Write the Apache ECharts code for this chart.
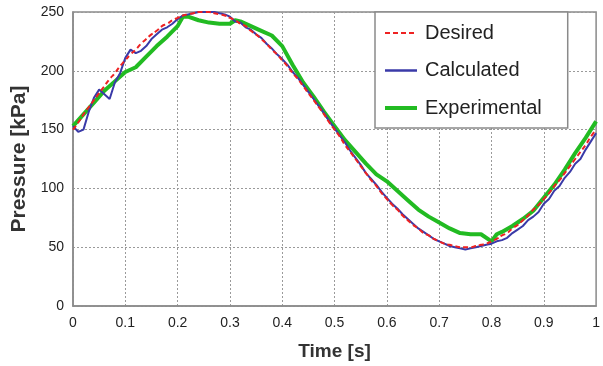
<!DOCTYPE html>
<html><head><meta charset="utf-8">
<script src="https://cdn.jsdelivr.net/npm/echarts@6/dist/echarts.min.js"></script>
<style>html,body{margin:0;padding:0;background:#fff}#c{width:603px;height:366px}</style>
</head><body><div id="c"></div>
<script>
// Desired pressure, sampled every 0.01 s
const desired = [150,156,163,169,175,181,187,193,198,204,209,214,218,223,227,231,234,238,240,243,245,247,248,249,250,250,
250,249,248,247,245,243,240,238,234,231,227,223,218,214,209,204,198,193,187,181,175,169,163,156,150,
144,137,131,125,119,113,107,102,96,91,86,82,77,73,69,66,62,60,57,55,53,52,51,50,50,
50,51,52,53,55,57,60,62,66,69,73,77,82,86,91,96,102,107,113,119,125,131,137,144,150];
// Calculated pressure, sampled every 0.01 s
const calculated = [153,148,150,165,177,184,180,176,190,198,211,218,215,217,221,227,231,235,237,240,244,247,248,249,250,250,
250,250,249,248,246,242,241,237,235,231,228,223,219,214,210,205,199,194,188,182,176,170,164,157,151,
145,139,132,126,120,113,108,103,97,92,87,83,78,74,70,66,63,60,57,55,53,51,50,49,48,
49,50,51,52,53,55,56,58,62,65,68,73,76,80,87,91,98,102,109,114,121,125,133,140,147];
// Experimental pressure
const expT = [0,0.02,0.04,0.06,0.08,0.10,0.12,0.14,0.16,0.18,0.20,0.21,0.22,0.24,0.26,0.28,0.30,0.31,0.32,0.34,0.36,0.38,0.40,0.42,0.44,0.46,0.48,0.50,0.52,0.54,0.56,0.58,0.60,0.62,0.64,0.66,0.68,0.70,0.72,0.74,0.76,0.78,0.80,0.81,0.82,0.84,0.86,0.88,0.90,0.92,0.94,0.96,0.98,1.00];
const experimental = [153,163,173,183,191,199,203,212,221,229,238,246,246,243,241,240,240,243,242,238,234,230,221,205,190,178,165,153,141,131,121,112,106,98,90,82,76,71,66,62,61,61,55,61,63,68,74,81,92,103,116,130,143,157];
const xTicks = [0,0.1,0.2,0.3,0.4,0.5,0.6,0.7,0.8,0.9,1];
const yTicks = [0,50,100,150,200,250];

const step = 0.01;
const pairs = arr => arr.map((v,i)=>[+(i*step).toFixed(2), v]);
const chart = echarts.init(document.getElementById('c'));
const FONT = '"Liberation Sans", Arial, sans-serif';
chart.setOption({
  animation:false,
  grid:{left:73,right:5,top:12,bottom:59,show:true,borderColor:'#8a8a8a',borderWidth:1.5,backgroundColor:'transparent'},
  legend:{
    orient:'vertical', left:375, top:12,
    backgroundColor:'#fff', borderColor:'#8a8a8a', borderWidth:1.5, borderRadius:0,
    padding:[11,26,10,8], itemGap:17.5, itemWidth:32, itemHeight:20,
    itemStyle:{opacity:0},
    textStyle:{fontFamily:FONT,fontSize:20,color:'#222',padding:[0,0,0,3]},
    data:[
      {name:'Desired',lineStyle:{width:2}},
      {name:'Calculated',lineStyle:{width:2.5}},
      {name:'Experimental',lineStyle:{width:4}}
    ]
  },
  xAxis:{type:'value',min:0,max:1,interval:0.1,
    name:'Time [s]',nameLocation:'middle',nameGap:36,
    nameTextStyle:{fontFamily:FONT,fontSize:19,fontWeight:'bold',color:'#333'},
    axisLine:{show:true,lineStyle:{color:'#8a8a8a',width:1.5}},
    axisTick:{show:false},
    axisLabel:{fontFamily:FONT,fontSize:14,color:'#222',margin:10,
      formatter:v=>{const m=xTicks.find(t=>Math.abs(t-v)<1e-6);return m===undefined?'':String(m);}},
    splitLine:{show:true,lineStyle:{color:'#9a9a9a',type:[2,2],width:1}}
  },
  yAxis:{type:'value',min:0,max:250,interval:50,
    name:'Pressure [kPa]',nameLocation:'middle',nameGap:40,
    nameTextStyle:{fontFamily:FONT,fontSize:21,fontWeight:'bold',color:'#333'},
    axisLine:{show:true,lineStyle:{color:'#8a8a8a',width:1.5}},
    axisTick:{show:false},
    axisLabel:{fontFamily:FONT,fontSize:14,color:'#222',margin:9,
      formatter:v=>yTicks.includes(v)?String(v):''},
    splitLine:{show:true,lineStyle:{color:'#9a9a9a',type:[2,2],width:1}}
  },
  series:[
    {name:'Experimental',type:'line',symbol:'none',showSymbol:false,z:2,
      data:expT.map((t,i)=>[t,experimental[i]]),
      lineStyle:{color:'#22bb22',width:4},itemStyle:{color:'#22bb22'}},
    {name:'Calculated',type:'line',symbol:'none',showSymbol:false,z:3,
      data:pairs(calculated),
      lineStyle:{color:'#3a3aa8',width:2},itemStyle:{color:'#3a3aa8'}},
    {name:'Desired',type:'line',symbol:'none',showSymbol:false,z:4,smooth:true,
      data:pairs(desired),
      lineStyle:{color:'#ee2222',width:2,type:[5,3]},itemStyle:{color:'#ee2222'}}
  ]
});
</script></body></html>
